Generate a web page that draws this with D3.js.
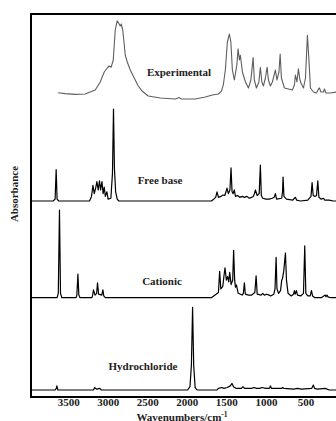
<!DOCTYPE html>
<html><head><meta charset="utf-8">
<script src="https://cdn.jsdelivr.net/npm/d3@7"></script>
<style>html,body{margin:0;padding:0;background:#fff;overflow:hidden}</style>
</head><body>
<script>
// ---- DATA (wavenumber cm-1, relative absorbance 0..1 within each trace) ----
const xTicks = [3500, 3000, 2500, 2000, 1500, 1000, 500];
const seriesNames = ["Experimental", "Free base", "Cationic", "Hydrochloride"];

const experimental = [
 [3627,0.09],[3538,0.08],[3411,0.07],[3285,0.075],[3158,0.125],[3095,0.225],[3044,0.35],[3006,0.4],
 [2981,0.425],[2956,0.41],[2930,0.5],[2905,0.875],[2880,0.99],[2861,0.96],[2842,0.925],[2829,0.95],
 [2810,0.875],[2791,0.69],[2778,0.56],[2753,0.475],[2715,0.375],[2665,0.275],[2614,0.175],[2563,0.11],
 [2487,0.05],[2335,0.025],[2146,0.0125],[2095,0.03],[2070,0.0125],[1892,0.0125],[1766,0.0375],[1677,0.0625],
 [1601,0.075],[1563,0.11],[1538,0.19],[1513,0.375],[1487,0.725],[1462,0.825],[1443,0.725],[1424,0.375],
 [1399,0.25],[1367,0.44],[1352,0.64],[1335,0.5],[1323,0.56],[1297,0.35],[1259,0.225],[1221,0.15],
 [1190,0.25],[1162,0.53],[1146,0.25],[1120,0.15],[1089,0.225],[1070,0.41],[1051,0.225],[1032,0.175],
 [1006,0.275],[985,0.41],[968,0.25],[943,0.175],[918,0.225],[880,0.375],[861,0.25],[835,0.35],
 [820,0.575],[804,0.275],[766,0.15],[715,0.1375],[665,0.125],[639,0.19],[627,0.3125],[608,0.225],
 [589,0.39],[570,0.25],[551,0.2],[525,0.15],[500,0.275],[475,0.81],[456,0.5],[437,0.15],
 [399,0.1],[361,0.0875],[335,0.1375],[323,0.15],[304,0.1],[272,0.1],[260,0.1375],[241,0.0875],
 [184,0.0875],[108,0.1],[0,0.1]
];

const freeBase = [
 [3970,0],[3690,0],[3665,0.02],[3652,0.34],[3640,0.02],[3620,0],[3230,0],[3205,0.05],[3187,0.17],
 [3170,0.08],[3150,0.15],[3137,0.21],[3120,0.12],[3104,0.22],[3090,0.12],[3073,0.21],[3058,0.08],
 [3044,0.15],[3030,0.05],[3010,0.1],[2995,0.02],[2960,0.03],[2940,0.3],[2927,1.0],[2915,0.35],
 [2900,0.1],[2880,0.02],[2860,0],[1690,0],[1660,0.02],[1635,0.04],[1618,0.1],[1600,0.04],[1570,0.05],
 [1542,0.065],[1520,0.06],[1505,0.1],[1492,0.14],[1475,0.08],[1455,0.12],[1441,0.36],[1428,0.1],
 [1415,0.08],[1400,0.12],[1385,0.05],[1360,0.06],[1330,0.04],[1300,0.05],[1270,0.04],[1240,0.05],
 [1210,0.03],[1180,0.04],[1160,0.05],[1145,0.08],[1133,0.12],[1110,0.06],[1085,0.08],[1070,0.39],
 [1058,0.06],[1040,0.03],[1000,0.02],[960,0.02],[920,0.03],[895,0.04],[880,0.08],[865,0.02],
 [800,0.03],[790,0.1],[783,0.26],[772,0.05],[740,0.02],[660,0.01],[640,0.03],[627,0.04],[612,0.01],
 [560,0],[470,0.01],[430,0.05],[416,0.2],[402,0.06],[380,0.05],[360,0.06],[344,0.22],[330,0.04],
 [300,0.02],[272,0.03],[255,0.01],[200,0.01],[150,0],[0,0]
];

const cationic = [
 [3970,0],[3640,0],[3625,0.05],[3610,1.0],[3597,0.05],[3580,0],[3400,0],[3390,0.03],[3377,0.27],
 [3365,0.03],[3350,0],[3200,0],[3190,0.03],[3180,0.09],[3160,0.03],[3140,0.05],[3129,0.17],[3115,0.04],
 [3075,0.03],[3061,0.09],[3050,0.02],[3030,0],[1690,0],[1660,0.02],[1630,0.04],[1600,0.06],[1585,0.3],
 [1570,0.1],[1545,0.13],[1530,0.25],[1517,0.34],[1500,0.2],[1484,0.24],[1470,0.18],[1458,0.29],
 [1440,0.15],[1420,0.2],[1408,0.54],[1395,0.2],[1385,0.12],[1373,0.145],[1350,0.05],[1300,0.03],
 [1285,0.05],[1272,0.17],[1260,0.04],[1220,0.03],[1180,0.03],[1140,0.06],[1124,0.25],[1110,0.04],
 [1060,0.03],[1040,0.05],[1020,0.03],[990,0.04],[960,0.03],[940,0.02],[900,0.04],[885,0.1],[871,0.46],
 [860,0.1],[840,0.05],[815,0.08],[800,0.2],[790,0.22],[775,0.3],[753,0.51],[740,0.2],[720,0.05],
 [680,0.02],[650,0.04],[640,0.08],[630,0.04],[615,0.08],[600,0.03],[560,0.02],[525,0.05],[509,0.59],
 [495,0.05],[470,0.02],[440,0.02],[424,0.08],[410,0.02],[380,0],[300,0],[250,0.03],[240,0.01],
 [228,0.03],[215,0.01],[180,0],[0,0]
];

const hydrochloride = [
 [3970,0],[3665,0],[3650,0.02],[3643,0.05],[3630,0],[3180,0],[3165,0.03],[3155,0.02],[3140,0.01],
 [3100,0.02],[3080,0],[1990,0],[1960,0.04],[1942,0.3],[1927,1.0],[1913,0.3],[1895,0.03],[1870,0],
 [1620,0],[1600,0.02],[1560,0.03],[1530,0.02],[1490,0.03],[1450,0.05],[1428,0.08],[1410,0.04],
 [1380,0.02],[1310,0.02],[1290,0.04],[1270,0.02],[1180,0.02],[1150,0.03],[1120,0.02],[1080,0.02],
 [1050,0.03],[1000,0.02],[955,0.02],[943,0.05],[930,0.02],[860,0.02],[800,0.02],[790,0.03],[770,0.02],
 [650,0.01],[600,0.02],[550,0.01],[420,0.02],[400,0.06],[385,0.02],[350,0.01],[250,0.02],[200,0],[0,0]
];

// ---- LAYOUT ----
const W = 336, H = 421;
const frame = {left: 31, top: 14, right: 345, bottom: 397};
const panels = [
  {data: experimental, base: 100, top: 20, color: "#5e5e5e", width: 1.1, label: {x: 179, y: 72}},
  {data: freeBase, base: 201, top: 109, color: "#000", width: 1.2, label: {x: 160, y: 180}},
  {data: cationic, base: 297.7, top: 210, color: "#000", width: 1.2, label: {x: 162, y: 281}},
  {data: hydrochloride, base: 390, top: 307.3, color: "#000", width: 1.2, label: {x: 143, y: 366}}
];

const svg = d3.select("body").append("svg").attr("width", W).attr("height", H);
const x = d3.scaleLinear().domain([3970, 0]).range([frame.left, frame.right]);

svg.append("clipPath").attr("id", "clip").append("rect")
  .attr("x", frame.left).attr("y", frame.top).attr("width", frame.right - frame.left).attr("height", frame.bottom - frame.top);

const g = svg.append("g").attr("clip-path", "url(#clip)");
panels.forEach((p, i) => {
  const y = d3.scaleLinear().domain([0, 1]).range([p.base, p.top]);
  const line = d3.line().x(d => x(d[0])).y(d => y(d[1]));
  g.append("path").datum(p.data).attr("d", line)
    .attr("fill", "none").attr("stroke", p.color).attr("stroke-width", p.width).attr("stroke-linejoin", "round");
  svg.append("text").attr("x", p.label.x).attr("y", p.label.y).attr("dy", "0.35em")
    .attr("text-anchor", "middle").attr("font-family", "Liberation Serif, Times New Roman, serif")
    .attr("font-weight", "bold").attr("font-size", 11).attr("fill", "#222").text(seriesNames[i]);
});

// frame
svg.append("rect").attr("x", frame.left).attr("y", frame.top)
  .attr("width", frame.right - frame.left).attr("height", frame.bottom - frame.top)
  .attr("fill", "none").attr("stroke", "#000").attr("stroke-width", 2);

// x axis
const axis = d3.axisBottom(x).tickValues(xTicks).tickSize(0).tickPadding(1).tickFormat(d3.format("d"));
const ax = svg.append("g").attr("transform", `translate(0,${frame.bottom})`).call(axis);
ax.select(".domain").remove();
ax.selectAll("text").attr("font-family", "Liberation Serif, Times New Roman, serif")
  .attr("font-weight", "bold").attr("font-size", 11).attr("fill", "#222");

// axis titles
const xt = svg.append("text").attr("x", 182).attr("y", 420.5)
  .attr("text-anchor", "middle").attr("font-family", "Liberation Serif, Times New Roman, serif")
  .attr("font-weight", "bold").attr("font-size", 11).attr("fill", "#222");
xt.append("tspan").text("Wavenumbers/cm");
xt.append("tspan").attr("dy", -3.5).attr("font-size", 7.5).text("-1");

svg.append("text").attr("transform", "translate(18,194) rotate(-90)")
  .attr("text-anchor", "middle").attr("font-family", "Liberation Serif, Times New Roman, serif")
  .attr("font-weight", "bold").attr("font-size", 11).attr("fill", "#222").text("Absorbance");
</script>
</body></html>
